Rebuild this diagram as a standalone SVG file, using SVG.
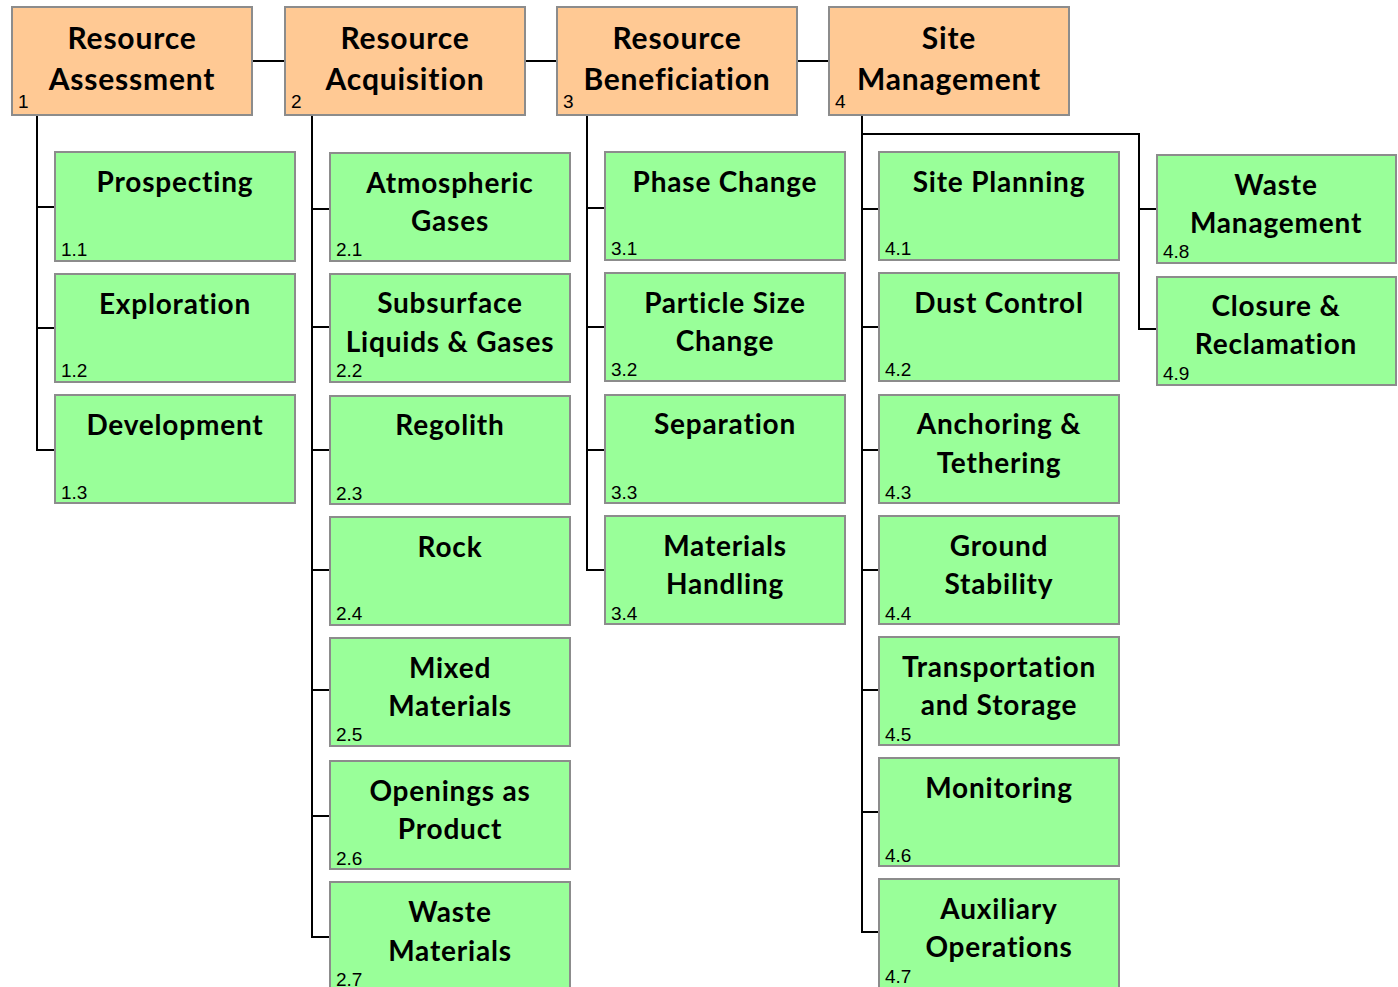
<svg xmlns="http://www.w3.org/2000/svg" width="1398" height="987" viewBox="0 0 1398 987">
<style>
.top{fill:#FFC994;stroke:#8C8C8C;stroke-width:2}
.box{fill:#99FF99;stroke:#8C8C8C;stroke-width:2}
.t{font-family:Lato,"Liberation Sans",sans-serif;font-weight:bold;font-size:30px;letter-spacing:0.8px;fill:#000;text-anchor:middle}
.c{font-family:Lato,"Liberation Sans",sans-serif;font-weight:bold;font-size:28px;letter-spacing:0.8px;fill:#000;text-anchor:middle}
.n{font-family:"Liberation Sans",Arial,sans-serif;font-size:19px;fill:#000}
.ln{fill:none;stroke:#000;stroke-width:2}
</style>
<rect width="1398" height="987" fill="#fff"/>
<g id="connectors">
<path class="ln" d="M252 61H285M525 61H557M797 61H829"/>
<path class="ln" d="M37 115V450H55M37 207H55M37 328H55"/>
<path class="ln" d="M312 115V937H330M312 209H330M312 327H330M312 450H330M312 570H330M312 690H330M312 816H330"/>
<path class="ln" d="M587 115V570H605M587 208H605M587 327H605M587 450H605"/>
<path class="ln" d="M862 115V932H879M862 209H879M862 327H879M862 450H879M862 570H879M862 690H879M862 812H879"/>
<path class="ln" d="M862 134H1139V329H1157M1139 209H1157"/>
</g>
<g id="n1"><rect class="top" x="12" y="7" width="240" height="108"/><text class="t" x="132" y="49">Resource</text><text class="t" x="132" y="90">Assessment</text><text class="n" x="18" y="108">1</text></g>
<g id="n2"><rect class="top" x="285" y="7" width="240" height="108"/><text class="t" x="405" y="49">Resource</text><text class="t" x="405" y="90">Acquisition</text><text class="n" x="291" y="108">2</text></g>
<g id="n3"><rect class="top" x="557" y="7" width="240" height="108"/><text class="t" x="677" y="49">Resource</text><text class="t" x="677" y="90">Beneficiation</text><text class="n" x="563" y="108">3</text></g>
<g id="n4"><rect class="top" x="829" y="7" width="240" height="108"/><text class="t" x="949" y="49">Site</text><text class="t" x="949" y="90">Management</text><text class="n" x="835" y="108">4</text></g>

<g id="n1-1"><rect class="box" x="55" y="152" width="240" height="109"/><text class="c" x="175" y="192">Prospecting</text><text class="n" x="61" y="256">1.1</text></g>
<g id="n1-2"><rect class="box" x="55" y="274" width="240" height="108"/><text class="c" x="175" y="314">Exploration</text><text class="n" x="61" y="377">1.2</text></g>
<g id="n1-3"><rect class="box" x="55" y="395" width="240" height="108"/><text class="c" x="175" y="435">Development</text><text class="n" x="61" y="499">1.3</text></g>

<g id="n2-1"><rect class="box" x="330" y="153" width="240" height="108"/><text class="c" x="450" y="193">Atmospheric</text><text class="c" x="450" y="231">Gases</text><text class="n" x="336" y="256">2.1</text></g>
<g id="n2-2"><rect class="box" x="330" y="274" width="240" height="108"/><text class="c" x="450" y="313">Subsurface</text><text class="c" x="450" y="352">Liquids &amp; Gases</text><text class="n" x="336" y="377">2.2</text></g>
<g id="n2-3"><rect class="box" x="330" y="396" width="240" height="108"/><text class="c" x="450" y="435">Regolith</text><text class="n" x="336" y="500">2.3</text></g>
<g id="n2-4"><rect class="box" x="330" y="517" width="240" height="108"/><text class="c" x="450" y="557">Rock</text><text class="n" x="336" y="620">2.4</text></g>
<g id="n2-5"><rect class="box" x="330" y="638" width="240" height="108"/><text class="c" x="450" y="678">Mixed</text><text class="c" x="450" y="716">Materials</text><text class="n" x="336" y="741">2.5</text></g>
<g id="n2-6"><rect class="box" x="330" y="761" width="240" height="108"/><text class="c" x="450" y="801">Openings as</text><text class="c" x="450" y="839">Product</text><text class="n" x="336" y="865">2.6</text></g>
<g id="n2-7"><rect class="box" x="330" y="882" width="240" height="110"/><text class="c" x="450" y="922">Waste</text><text class="c" x="450" y="961">Materials</text><text class="n" x="336" y="986">2.7</text></g>

<g id="n3-1"><rect class="box" x="605" y="152" width="240" height="108"/><text class="c" x="725" y="192">Phase Change</text><text class="n" x="611" y="255">3.1</text></g>
<g id="n3-2"><rect class="box" x="605" y="273" width="240" height="108"/><text class="c" x="725" y="313">Particle Size</text><text class="c" x="725" y="351">Change</text><text class="n" x="611" y="376">3.2</text></g>
<g id="n3-3"><rect class="box" x="605" y="395" width="240" height="108"/><text class="c" x="725" y="434">Separation</text><text class="n" x="611" y="499">3.3</text></g>
<g id="n3-4"><rect class="box" x="605" y="516" width="240" height="108"/><text class="c" x="725" y="556">Materials</text><text class="c" x="725" y="594">Handling</text><text class="n" x="611" y="620">3.4</text></g>

<g id="n4-1"><rect class="box" x="879" y="152" width="240" height="108"/><text class="c" x="999" y="192">Site Planning</text><text class="n" x="885" y="255">4.1</text></g>
<g id="n4-2"><rect class="box" x="879" y="273" width="240" height="108"/><text class="c" x="999" y="313">Dust Control</text><text class="n" x="885" y="376">4.2</text></g>
<g id="n4-3"><rect class="box" x="879" y="395" width="240" height="108"/><text class="c" x="999" y="434">Anchoring &amp;</text><text class="c" x="999" y="473">Tethering</text><text class="n" x="885" y="499">4.3</text></g>
<g id="n4-4"><rect class="box" x="879" y="516" width="240" height="108"/><text class="c" x="999" y="556">Ground</text><text class="c" x="999" y="594">Stability</text><text class="n" x="885" y="620">4.4</text></g>
<g id="n4-5"><rect class="box" x="879" y="637" width="240" height="108"/><text class="c" x="999" y="677">Transportation</text><text class="c" x="999" y="715">and Storage</text><text class="n" x="885" y="741">4.5</text></g>
<g id="n4-6"><rect class="box" x="879" y="758" width="240" height="108"/><text class="c" x="999" y="798">Monitoring</text><text class="n" x="885" y="862">4.6</text></g>
<g id="n4-7"><rect class="box" x="879" y="879" width="240" height="112"/><text class="c" x="999" y="919">Auxiliary</text><text class="c" x="999" y="957">Operations</text><text class="n" x="885" y="983">4.7</text></g>
<g id="n4-8"><rect class="box" x="1157" y="155" width="239" height="108"/><text class="c" x="1276" y="195">Waste</text><text class="c" x="1276" y="233">Management</text><text class="n" x="1163" y="258">4.8</text></g>
<g id="n4-9"><rect class="box" x="1157" y="277" width="239" height="108"/><text class="c" x="1276" y="316">Closure &amp;</text><text class="c" x="1276" y="354">Reclamation</text><text class="n" x="1163" y="380">4.9</text></g>
</svg>
